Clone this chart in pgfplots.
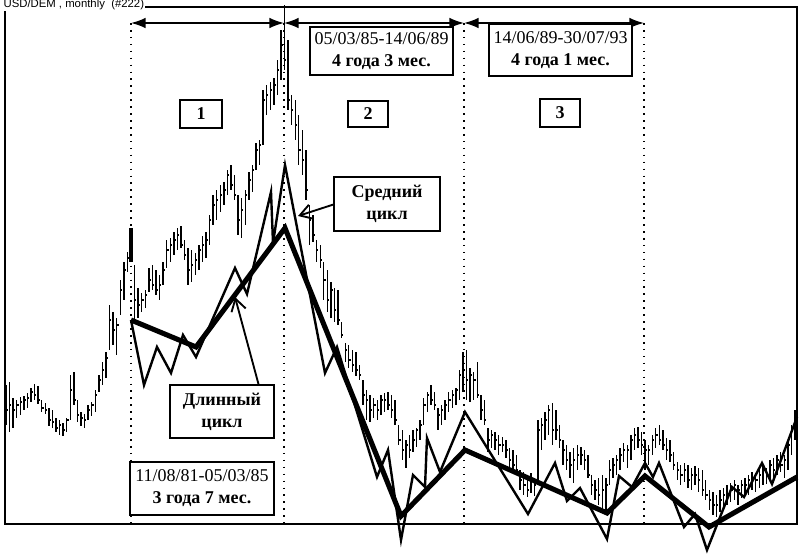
\documentclass[border=0pt]{standalone}
\usepackage{fontspec}
\setmainfont{Liberation Serif}
\newfontfamily\sansf{Liberation Sans}
\usepackage{pgfplots}
\usepackage{pgfplotstable}
\pgfplotsset{compat=1.18}
\usetikzlibrary{arrows.meta}

% monthly bars: i = month index (0 = Sep 1978), hi/lo/cl in chart units (top = high)
\pgfplotstableread{
i hi lo cl
0 385 425 410
1 382 432 405
2 398 428 410
3 400 418 405
4 397 415 402
5 396 410 400
6 393 408 398
7 388 402 392
8 384 400 395
9 386 404 400
10 400 412 408
11 403 414 410
12 408 426 420
13 410 428 422
14 418 432 428
15 420 435 425
16 423 436 430
17 418 432 420
18 375 420 390
19 372 405 400
20 400 422 415
21 412 426 418
22 414 428 420
23 405 420 410
24 402 416 405
25 390 412 395
26 375 392 380
27 362 385 370
28 352 378 358
29 305 350 320
30 312 345 330
31 318 355 325
32 280 315 290
33 262 300 270
34 252 272 258
35 228 262 250
36 265 320 300
37 288 318 305
38 293 312 300
39 290 308 295
40 268 292 280
41 265 290 285
42 270 295 290
43 275 300 285
44 262 285 270
45 240 268 250
46 238 262 245
47 232 255 240
48 228 250 235
49 226 248 245
50 240 260 255
51 248 285 270
52 250 282 265
53 253 275 260
54 245 270 250
55 236 262 245
56 232 258 240
57 215 245 220
58 195 225 205
59 190 220 200
60 185 212 195
61 182 205 190
62 170 195 175
63 165 190 185
64 175 200 195
65 195 235 220
66 198 238 210
67 190 225 195
68 172 200 180
69 165 192 170
70 143 170 150
71 140 165 145
72 90 145 100
73 85 115 95
74 82 110 90
75 78 105 85
76 60 95 70
77 30 80 45
78 5 70 60
79 40 110 100
80 95 125 110
81 100 140 125
82 115 165 150
83 130 175 160
84 150 200 190
85 205 245 220
86 215 242 235
87 240 262 250
88 245 268 260
89 262 300 280
90 270 312 300
91 282 318 290
92 288 322 310
93 290 325 320
94 322 338 335
95 343 362 350
96 345 368 360
97 350 372 365
98 352 376 370
99 365 380 375
100 380 405 395
101 390 420 400
102 395 422 410
103 398 418 405
104 400 420 410
105 395 415 400
106 393 412 400
107 392 410 405
108 395 418 410
109 400 425 420
110 425 445 440
111 430 460 450
112 440 468 445
113 435 458 450
114 430 452 440
115 428 447 430
116 420 440 425
117 398 425 405
118 392 412 395
119 385 405 400
120 392 410 405
121 408 430 415
122 405 425 410
123 400 420 405
124 392 412 400
125 390 408 395
126 388 405 390
127 370 400 375
128 352 392 370
129 350 400 380
130 368 402 375
131 372 400 380
132 362 398 395
133 395 420 410
134 400 425 420
135 428 452 440
136 430 448 435
137 432 450 440
138 435 455 445
139 437 452 445
140 440 458 450
141 448 468 460
142 450 472 465
143 455 475 470
144 470 490 480
145 472 495 485
146 475 497 490
147 473 493 480
148 478 496 485
149 420 480 430
150 418 450 425
151 412 440 420
152 405 435 410
153 403 445 430
154 410 440 430
155 425 448 440
156 440 465 450
157 445 470 460
158 452 478 465
159 448 483 460
160 445 470 455
161 447 465 455
162 450 470 460
163 455 478 475
164 475 495 485
165 480 500 490
166 478 505 495
167 475 512 490
168 478 510 485
169 460 485 470
170 458 478 465
171 455 475 460
172 448 470 455
173 443 462 450
174 445 468 450
175 435 460 440
176 428 450 435
177 427 448 440
178 432 455 445
179 440 470 450
180 445 465 450
181 435 455 440
182 428 448 435
183 425 445 440
184 430 450 445
185 438 460 450
186 440 462 455
187 452 470 465
188 462 480 470
189 465 485 475
190 463 482 470
191 465 488 480
192 468 490 475
193 466 485 475
194 468 492 480
195 470 496 490
196 480 500 495
197 490 510 500
198 492 515 505
199 495 517 505
200 490 512 500
201 488 510 495
202 485 505 495
203 483 502 490
204 480 500 485
205 485 505 490
206 480 498 485
207 478 495 485
208 475 495 480
209 472 490 480
210 475 492 480
211 470 488 475
212 465 485 470
213 468 484 475
214 460 480 465
215 458 478 470
216 455 475 460
217 452 472 465
218 455 478 460
219 440 470 445
220 425 455 430
221 410 440 415
}\bars

\begin{document}
\begin{tikzpicture}
\begin{axis}[
  x=0.75pt, y=0.75pt, y dir=reverse,
  scale only axis,
  xmin=5, xmax=797, ymin=7, ymax=524,
  xtick=\empty, ytick=\empty,
  axis line style={line width=1.1pt},
  clip=false,
]
% bars (high-low range)
\addplot[draw=none, mark=none,
  error bars/.cd, y dir=plus, y explicit, error mark=none,
  error bar style={line width=1.05pt, draw=black, solid}]
  table[x expr=6.05+3.57*\thisrow{i}, y=hi, y error plus expr=\thisrow{lo}-\thisrow{hi}] {\bars};
% close ticks
\addplot[draw=none, mark=none,
  error bars/.cd, x dir=plus, x fixed=1.8, error mark=none,
  error bar style={line width=0.9pt, draw=black, solid}]
  table[x expr=6.05+3.57*\thisrow{i}, y=cl] {\bars};
% highlighted bar Aug 1981
\addplot[black, line width=2.6pt] coordinates {(131,228) (131,262)};

% vertical dotted cycle boundaries
\foreach \xx in {131,284,464,644}{
  \edef\temp{\noexpand\draw[black, line width=0.9pt, dash pattern=on 1.2pt off 4pt] (axis cs:\xx,23) -- (axis cs:\xx,524);}
  \temp
}

% medium cycle (thin zigzag)
\addplot[black, line width=1.8pt] coordinates {
(131,320) (144,385) (157,347) (171,373) (183,335) (196,357) (235,268) (247,294)
(271,192) (273,243) (285,165) (325,373) (337,347) (377,477) (388,450) (401,540)
(413,475) (425,487) (427,438) (440,472) (465,412) (528,514) (555,463) (567,501)
(580,488) (607,539) (619,476) (632,487) (645,463) (653,477) (659,463) (684,527)
(695,514) (707,550) (732,487) (744,497) (762,463) (772,484) (797,417)};

% long cycle (thick line)
\addplot[black, line width=3.8pt] coordinates {
(131,320) (196,347) (285,228) (401,516) (465,450) (607,513) (645,476) (709,527) (797,477)};

% top double arrows
\draw[line width=1.2pt, {Latex[length=11pt,width=8pt]}-{Latex[length=11pt,width=8pt]}] (axis cs:131,23) -- (axis cs:284,23);
\draw[line width=1.2pt, {Latex[length=11pt,width=8pt]}-{Latex[length=11pt,width=8pt]}] (axis cs:284,23) -- (axis cs:464,23);
\draw[line width=1.2pt, {Latex[length=11pt,width=8pt]}-{Latex[length=11pt,width=8pt]}] (axis cs:464,23) -- (axis cs:644,23);

% boxes
\tikzset{bx/.style={draw, fill=white, line width=1.4pt, inner sep=0pt, align=center,
  font=\fontsize{13.5}{16.5}\selectfont}}
\node[bx, minimum width=31pt, minimum height=21pt] at (axis cs:201,114) {\textbf{1}};
\node[bx, minimum width=30pt, minimum height=20pt] at (axis cs:368,114) {\textbf{2}};
\node[bx, minimum width=30pt, minimum height=21pt] at (axis cs:560,113) {\textbf{3}};
\node[bx, minimum width=107pt, minimum height=36pt] at (axis cs:381.5,51) {05/03/85-14/06/89\\\textbf{4 года 3 мес.}};
\node[bx, minimum width=107pt, minimum height=39pt] at (axis cs:560.5,50) {14/06/89-30/07/93\\\textbf{4 года 1 мес.}};
\node[bx, minimum width=108pt, minimum height=40pt] at (axis cs:202,488.5) {11/08/81-05/03/85\\\textbf{3 года 7 мес.}};

% labels with arrows
\draw[line width=1.4pt, -{Straight Barb[length=9pt,width=11pt]}] (axis cs:259,386) -- (axis cs:235,297);
\node[bx, minimum width=78pt, minimum height=40pt] at (axis cs:222,411.5) {\textbf{Длинный}\\\textbf{цикл}};
\draw[line width=1.4pt, -{Straight Barb[length=9pt,width=11pt]}] (axis cs:335,204) -- (axis cs:298,216);
\node[bx, minimum width=80pt, minimum height=41pt] at (axis cs:387,204) {\textbf{Средний}\\\textbf{цикл}};

% title
\node[anchor=base west, fill=white, inner sep=1pt, font=\sansf\fontsize{8.5}{9}\selectfont] at (axis cs:2,7) {USD/DEM , monthly\ \ (\#222)};

\coordinate (BL) at (axis cs:0,554);
\coordinate (TR) at (axis cs:804,0);
\end{axis}
\pgfresetboundingbox
\useasboundingbox (BL) rectangle (TR);
\end{tikzpicture}
\end{document}
